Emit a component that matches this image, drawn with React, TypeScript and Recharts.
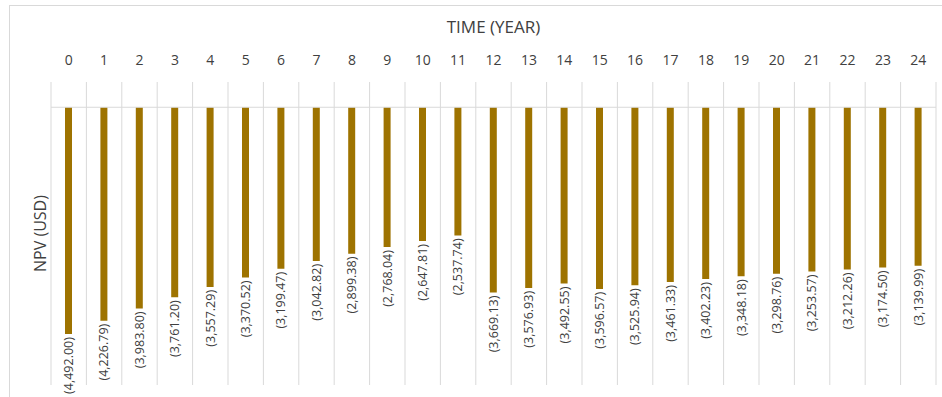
import { Bar, BarChart, CartesianGrid, LabelList, ReferenceLine, XAxis, YAxis } from "recharts";

const years = ["0", "1", "2", "3", "4", "5", "6", "7", "8", "9", "10", "11", "12", "13", "14", "15", "16", "17", "18", "19", "20", "21", "22", "23", "24"];

const npv = [
  -4492.0, -4226.79, -3983.8, -3761.2, -3557.29, -3370.52, -3199.47, -3042.82, -2899.38, -2768.04, -2647.81,
  -2537.74, -3669.13, -3576.93, -3492.55, -3596.57, -3525.94, -3461.33, -3402.23, -3348.18, -3298.76,
  -3253.57, -3212.26, -3174.5, -3139.99,
];

const data = years.map((year, i) => ({ year, npv: npv[i] }));

const fmt = (v: number) =>
  "(" + Math.abs(v).toLocaleString("en-US", { minimumFractionDigits: 2, maximumFractionDigits: 2 }) + ")";

const FONT = "'Open Sans', sans-serif";

// labels hang under the end of each bar, reading bottom to top
const ValueLabel = (props: any) => {
  const { x, y, width, height, value } = props;
  const cx = Number(x) + Number(width) / 2;
  const bottom = Math.max(Number(y), Number(y) + Number(height)) + 3;
  return (
    <text
      x={cx}
      y={bottom}
      transform={`rotate(-90 ${cx} ${bottom})`}
      textAnchor="end"
      dominantBaseline="central"
      fontSize={12.5}
      fontFamily={FONT}
      fill="#404040"
    >
      {fmt(value)}
    </text>
  );
};

const App = () => {
  return (
    <div style={{ position: "absolute", left: 9, top: 5, width: 940, height: 400, border: "1px solid #d9d9d9" }}>
      <BarChart
        width={932}
        height={391}
        data={data}
        margin={{ top: 46, right: 6, bottom: 12, left: 0 }}
        style={{ fontFamily: FONT }}
      >
        <CartesianGrid
          horizontal={false}
          stroke="#d9d9d9"
          verticalCoordinatesGenerator={({ offset }: any) =>
            Array.from({ length: years.length + 1 }, (_, i) => offset.left + (i * offset.width) / years.length)
          }
        />
        <XAxis
          dataKey="year"
          orientation="top"
          height={30}
          axisLine={false}
          tickLine={false}
          tickMargin={11}
          tick={{ fill: "#404040", fontSize: 14 }}
          interval={0}
          label={{ value: "TIME (YEAR)", position: "top", offset: 19, fill: "#404040", fontSize: 17 }}
        />
        <YAxis
          width={41}
          domain={[-5500, 500]}
          tick={false}
          axisLine={false}
          tickLine={false}
          label={{ value: "NPV (USD)", angle: -90, position: "center", dx: 10, fill: "#404040", fontSize: 16 }}
        />
        <ReferenceLine y={0} stroke="#d9d9d9" />
        <Bar dataKey="npv" fill="#9e7300" barSize={7} isAnimationActive={false}>
          <LabelList dataKey="npv" content={ValueLabel} />
        </Bar>
      </BarChart>
    </div>
  );
};

export default App;
